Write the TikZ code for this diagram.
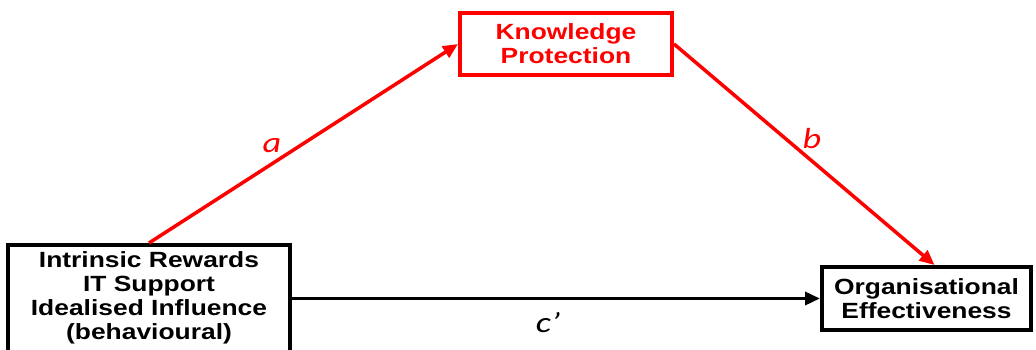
\documentclass[tikz,border=0pt]{standalone}
\usepackage{fontspec}
\usetikzlibrary{arrows.meta}
\newfontfamily\boxfont{Liberation Sans}[FakeStretch=1.2]
\newfontfamily\lblfont{Carlito}[FakeStretch=1.25]
\definecolor{kred}{RGB}{255,0,0}
\tikzset{
  varbox/.style={draw, line width=4pt, fill=white, align=center, inner sep=0pt,
    font=\boxfont\bfseries\fontsize{22}{24}\selectfont},
  boxtext/.style={align=center, inner sep=0pt,
    font=\boxfont\bfseries\fontsize{22}{24}\selectfont},
  conn/.style={line width=3.5pt, -{Triangle[length=15pt,width=13pt]}},
  pathlbl/.style={font=\lblfont\itshape\fontsize{29}{30}\selectfont}
}
\begin{document}
\begin{tikzpicture}[x=1pt,y=-1pt]
\useasboundingbox (0,0) rectangle (1036,350);
\clip (0,0) rectangle (1036,350);
\node[varbox, minimum width=282pt, minimum height=130pt, anchor=north] (L) at (149,243) {};
\node[boxtext] (Lt) at (149,298)
  {Intrinsic Rewards\\IT Support\\Idealised Influence\\(behavioural)};
\node[varbox, draw=kred, text=kred, minimum width=212pt, minimum height=62pt] (K) at (566,44)
  {Knowledge\\Protection};
\node[varbox, minimum width=209pt, minimum height=63pt] (O) at (926.5,298.5)
  {Organisational\\Effectiveness};
\draw[conn, kred] (L.north) -- (K.west);
\draw[conn, kred] (K.east) -- ([xshift=8pt]O.north);
\draw[conn, black] (L.east |- O.west) -- (O.west);
\node[pathlbl, text=kred] (la) at (272,146) {a};
\node[pathlbl, text=kred] (lb) at (812,139) {b};
\node[pathlbl] (lc) at (548,323) {c’};
\end{tikzpicture}
\end{document}
